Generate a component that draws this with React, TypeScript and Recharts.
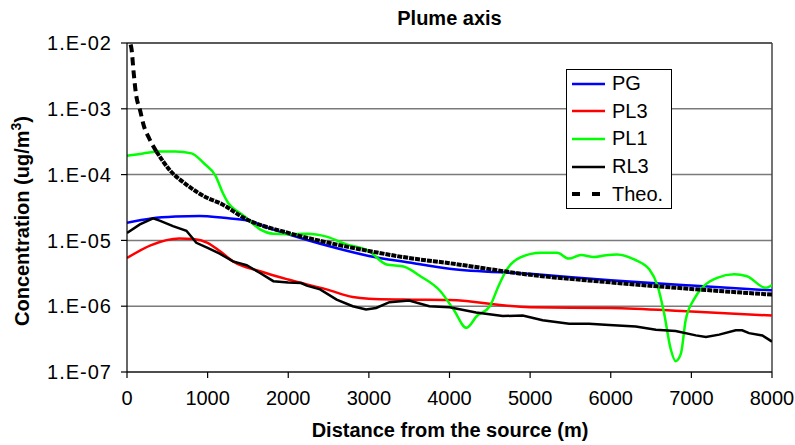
import { LineChart, Line, XAxis, YAxis, CartesianGrid, ReferenceLine, Legend, Label } from 'recharts'

const FONT = '"Liberation Sans", Arial, Helvetica, sans-serif'

const X_TICKS = [0, 1000, 2000, 3000, 4000, 5000, 6000, 7000, 8000]
const Y_TICKS = [1e-7, 1e-6, 1e-5, 1e-4, 1e-3, 1e-2]

// PG (blue)
const pgDist = [0, 300, 600, 900, 1200, 1500, 1750, 2000, 2500, 3000, 3500, 4000, 5000, 6000, 7000, 8000]
const pgConc = [1.86e-5, 2.15e-5, 2.3e-5, 2.35e-5, 2.2e-5, 2.0e-5, 1.55e-5, 1.24e-5, 8.2e-6, 5.8e-6, 4.6e-6, 3.7e-6, 3.1e-6, 2.48e-6, 2.06e-6, 1.74e-6]

// PL3 (red)
const pl3Dist = [0, 300, 650, 820, 1000, 1150, 1315, 1650, 2000, 2475, 2800, 3000, 3430, 4000, 5000, 6000, 7000, 8000]
const pl3Conc = [5.4e-6, 8.5e-6, 1.07e-5, 1.05e-5, 9.2e-6, 6.9e-6, 4.8e-6, 3.4e-6, 2.54e-6, 1.8e-6, 1.38e-6, 1.3e-6, 1.26e-6, 1.24e-6, 9.6e-7, 9.4e-7, 8.3e-7, 7.2e-7]

// PL1 (green)
const pl1Dist = [0, 200, 400, 600, 800, 950, 1100, 1190, 1255, 1400, 1480, 1650, 1815, 2000, 2230, 2475, 2725, 3000, 3220, 3430, 3640, 3885, 4050, 4210, 4340, 4500, 4610, 4710, 4880, 5130, 5335, 5480, 5630, 5790, 5920, 6080, 6290, 6480, 6580, 6660, 6745, 6805, 6870, 6930, 7030, 7160, 7320, 7530, 7690, 7920, 8000]
const pl1Conc = [1.93e-4, 2.1e-4, 2.24e-4, 2.25e-4, 2.1e-4, 1.5e-4, 9.5e-5, 5.2e-5, 3.7e-5, 2.6e-5, 2.2e-5, 1.47e-5, 1.26e-5, 1.24e-5, 1.26e-5, 1.14e-5, 8.7e-6, 6.9e-6, 4.3e-6, 4.0e-6, 2.85e-6, 1.7e-6, 8.9e-7, 4.7e-7, 7.1e-7, 1.0e-6, 2.05e-6, 3.6e-6, 5.5e-6, 6.5e-6, 6.5e-6, 5.3e-6, 6.0e-6, 5.6e-6, 5.9e-6, 6.1e-6, 5.15e-6, 3.6e-6, 2.05e-6, 8e-7, 2.2e-7, 1.46e-7, 1.9e-7, 6.2e-7, 1.26e-6, 2.05e-6, 2.7e-6, 3.05e-6, 2.85e-6, 1.9e-6, 2.1e-6]

// RL3 (black)
const rl3Dist = [0, 160, 323, 405, 570, 737, 860, 1000, 1150, 1315, 1483, 1650, 1815, 2000, 2160, 2230, 2395, 2600, 2800, 2965, 3090, 3255, 3500, 3750, 4000, 4330, 4660, 4908, 5155, 5485, 5730, 5980, 6310, 6560, 6805, 7055, 7180, 7345, 7550, 7630, 7715, 7880, 8000]
const rl3Conc = [1.3e-5, 1.75e-5, 2.16e-5, 2.0e-5, 1.65e-5, 1.4e-5, 9.2e-6, 7.7e-6, 6.3e-6, 4.8e-6, 4.2e-6, 3.2e-6, 2.4e-6, 2.3e-6, 2.25e-6, 2.05e-6, 1.8e-6, 1.26e-6, 1.0e-6, 8.9e-7, 9.4e-7, 1.15e-6, 1.22e-6, 1.0e-6, 9.6e-7, 8.0e-7, 7.1e-7, 7.2e-7, 6.1e-7, 5.4e-7, 5.4e-7, 5.2e-7, 4.9e-7, 4.4e-7, 4.2e-7, 3.6e-7, 3.4e-7, 3.7e-7, 4.3e-7, 4.3e-7, 3.9e-7, 3.6e-7, 2.9e-7]

// Theo. (dashed black)
const theoDist = [45, 55, 83, 108, 166, 207, 273, 365, 530, 740, 1000, 1150, 1480, 2000, 2500, 3000, 3500, 4000, 5000, 6000, 7000, 8000]
const theoConc = [9.5e-3, 8.3e-3, 3.5e-3, 1.8e-3, 9.1e-4, 5.6e-4, 3.6e-4, 2.24e-4, 1.17e-4, 7e-5, 4.4e-5, 3.7e-5, 2.1e-5, 1.3e-5, 9.2e-6, 6.9e-6, 5.4e-6, 4.5e-6, 3.0e-6, 2.3e-6, 1.83e-6, 1.5e-6]

const THEO_SPLIT = 300

const zip = (xs: number[], ys: number[]) => xs.map((x, i) => ({ x, y: ys[i] }))

const pgData = zip(pgDist, pgConc)
const pl3Data = zip(pl3Dist, pl3Conc)
const pl1Data = zip(pl1Dist, pl1Conc)
const rl3Data = zip(rl3Dist, rl3Conc)
const theoData = zip(theoDist, theoConc)
const theoHead = theoData.filter((d) => d.x <= THEO_SPLIT + 100)
const theoTail = theoData.filter((d) => d.x >= THEO_SPLIT)

const LEGEND = [
  { name: 'PG', color: '#0000ff', dash: undefined as string | undefined, width: 2.5 },
  { name: 'PL3', color: '#ff0000', dash: undefined, width: 2.5 },
  { name: 'PL1', color: '#00ff00', dash: undefined, width: 2.5 },
  { name: 'RL3', color: '#000000', dash: undefined, width: 2.5 },
  { name: 'Theo.', color: '#000000', dash: '8 12', width: 4 },
]

function formatExp(v: number) {
  const e = Math.round(Math.log10(v))
  return `1.E${e < 0 ? '-' : '+'}${String(Math.abs(e)).padStart(2, '0')}`
}

function LegendBox() {
  return (
    <div
      style={{
        width: 106,
        border: '1px solid #000',
        background: '#fff',
        fontFamily: FONT,
        fontSize: 20,
        boxSizing: 'border-box',
      }}
    >
      {LEGEND.map((item) => (
        <div key={item.name} style={{ display: 'flex', alignItems: 'center', height: 27.6 }}>
          <svg width={45} height={10}>
            <line x1={5} y1={5} x2={38} y2={5} stroke={item.color} strokeWidth={item.width} strokeDasharray={item.dash} />
          </svg>
          <span style={{ color: '#000' }}>{item.name}</span>
        </div>
      ))}
    </div>
  )
}

function YTitle() {
  return (
    <text
      transform="translate(29,221) rotate(-90)"
      textAnchor="middle"
      fontFamily={FONT}
      fontWeight="bold"
      fontSize={20}
      fill="#000"
    >
      Concentration (ug/m<tspan dy={-8} fontSize={14}>3</tspan>
      <tspan dy={8}>)</tspan>
    </text>
  )
}

function XTitle() {
  return (
    <text x={450} y={437} textAnchor="middle" fontFamily={FONT} fontWeight="bold" fontSize={20} fill="#000">
      Distance from the source (m)
    </text>
  )
}

export default function App() {
  return (
    <div style={{ position: 'absolute', left: 0, top: 0, width: 795, height: 445, background: '#fff' }}>
      <div
        style={{
          position: 'absolute',
          top: 7,
          left: 127,
          width: 645,
          textAlign: 'center',
          fontFamily: FONT,
          fontWeight: 'bold',
          fontSize: 20,
          lineHeight: '23px',
          zIndex: 2,
        }}
      >
        Plume axis
      </div>
      <LineChart width={795} height={445} margin={{ top: 43, right: 23, left: 0, bottom: 0 }}>
        <CartesianGrid vertical={false} stroke="#7a7a7a" strokeWidth={1.5} />
        <XAxis
          type="number"
          dataKey="x"
          domain={[0, 8000]}
          ticks={X_TICKS}
          allowDataOverflow
          height={73}
          stroke="#000"
          strokeWidth={1.2}
          tickSize={6}
          tickMargin={13}
          tick={{ fontSize: 20, fill: '#000', fontFamily: FONT }}
        >
          <Label content={() => <XTitle />} />
        </XAxis>
        <YAxis
          scale="log"
          domain={[1e-7, 1e-2]}
          ticks={Y_TICKS}
          allowDataOverflow
          width={127}
          stroke="#000"
          strokeWidth={1.2}
          tickSize={6}
          tickMargin={9}
          tickFormatter={formatExp}
          tick={{ fontSize: 20, fill: '#000', fontFamily: FONT, letterSpacing: 1 }}
        >
          <Label content={() => <YTitle />} />
        </YAxis>
        <ReferenceLine y={1e-2} stroke="#444" strokeWidth={1.5} />
        <ReferenceLine x={8000} stroke="#444" strokeWidth={1.5} />
        <Line data={pgData} dataKey="y" type="monotone" stroke="#0000ff" strokeWidth={2.5} dot={false} isAnimationActive={false} />
        <Line data={pl3Data} dataKey="y" type="monotone" stroke="#ff0000" strokeWidth={2.5} dot={false} isAnimationActive={false} />
        <Line data={pl1Data} dataKey="y" type="monotone" stroke="#00ff00" strokeWidth={2.5} dot={false} isAnimationActive={false} />
        <Line data={rl3Data} dataKey="y" type="linear" stroke="#000" strokeWidth={2.5} dot={false} isAnimationActive={false} />
        <Line data={theoTail} dataKey="y" type="monotone" stroke="#000" strokeWidth={4} strokeDasharray="5 1" dot={false} isAnimationActive={false} />
        <Line data={theoHead} dataKey="y" type="monotone" stroke="#000" strokeWidth={4} strokeDasharray="8 5" dot={false} isAnimationActive={false} />
        <Legend
          layout="vertical"
          align="center"
          verticalAlign="middle"
          content={() => <LegendBox />}
          wrapperStyle={{ left: 566, top: 69, width: 106, height: 139 }}
        />
      </LineChart>
    </div>
  )
}
